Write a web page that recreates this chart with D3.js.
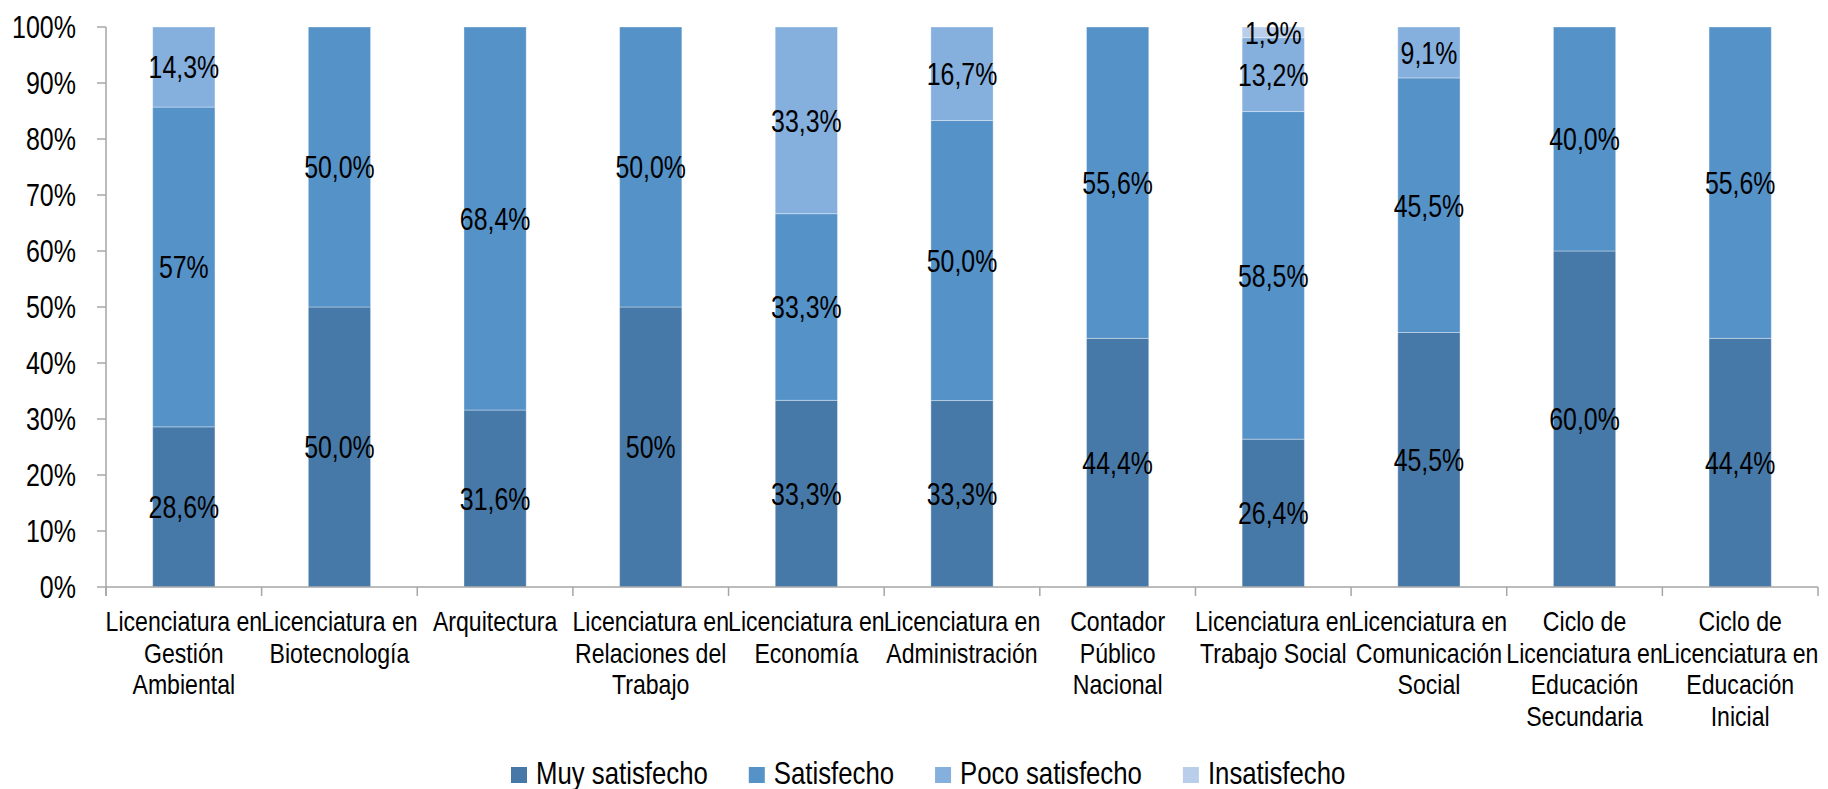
<!DOCTYPE html>
<html>
<head>
<meta charset="utf-8">
<script src="https://cdn.jsdelivr.net/npm/d3@7"></script>
<style>
  html, body { margin: 0; padding: 0; background: #ffffff; }
  svg { display: block; }
  text { font-family: "Liberation Sans", Arial, sans-serif; fill: #000; }
</style>
</head>
<body>
<svg id="chart" width="1828" height="789"></svg>
<script>
// ---- Data ----
const categories = [
  "Licenciatura en\nGestión\nAmbiental",
  "Licenciatura en\nBiotecnología",
  "Arquitectura",
  "Licenciatura en\nRelaciones del\nTrabajo",
  "Licenciatura en\nEconomía",
  "Licenciatura en\nAdministración",
  "Contador\nPúblico\nNacional",
  "Licenciatura en\nTrabajo Social",
  "Licenciatura en\nComunicación\nSocial",
  "Ciclo de\nLicenciatura en\nEducación\nSecundaria",
  "Ciclo de\nLicenciatura en\nEducación\nInicial"
];
const seriesNames = ["Muy satisfecho", "Satisfecho", "Poco satisfecho", "Insatisfecho"];
const muySatisfecho  = [28.6, 50.0, 31.6, 50.0, 33.3, 33.3, 44.4, 26.4, 45.5, 60.0, 44.4];
const satisfecho     = [57.1, 50.0, 68.4, 50.0, 33.3, 50.0, 55.6, 58.5, 45.5, 40.0, 55.6];
const pocoSatisfecho = [14.3, 0, 0, 0, 33.3, 16.7, 0, 13.2, 9.1, 0, 0];
const insatisfecho   = [0, 0, 0, 0, 0, 0, 0, 1.9, 0, 0, 0];
const muyLabels  = ["28,6%", "50,0%", "31,6%", "50%", "33,3%", "33,3%", "44,4%", "26,4%", "45,5%", "60,0%", "44,4%"];
const satLabels  = ["57%", "50,0%", "68,4%", "50,0%", "33,3%", "50,0%", "55,6%", "58,5%", "45,5%", "40,0%", "55,6%"];
const pocoLabels = ["14,3%", "", "", "", "33,3%", "16,7%", "", "13,2%", "9,1%", "", ""];
const insLabels  = ["", "", "", "", "", "", "", "1,9%", "", "", ""];
const yTicks = [0, 0.1, 0.2, 0.3, 0.4, 0.5, 0.6, 0.7, 0.8, 0.9, 1.0];
const yTickLabels = ["0%", "10%", "20%", "30%", "40%", "50%", "60%", "70%", "80%", "90%", "100%"];

// ---- Styles ----
const colors = ["#4779A8", "#5592C8", "#85AFDD", "#B8CEEA"];
const axisColor = "#A6A6A6";

const svg = d3.select("#chart");
const plotLeft = 106, plotRight = 1818, plotTop = 27, plotBottom = 587;

const x = d3.scaleBand().domain(categories).range([plotLeft, plotRight]).paddingInner(0.6).paddingOuter(0.3);
const y = d3.scaleLinear().domain([0, 1]).range([plotBottom, plotTop]);
const color = d3.scaleOrdinal().domain(seriesNames).range(colors);

const table = categories.map((c, i) => ({
  cat: c,
  "Muy satisfecho": muySatisfecho[i],
  "Satisfecho": satisfecho[i],
  "Poco satisfecho": pocoSatisfecho[i],
  "Insatisfecho": insatisfecho[i]
}));
const labelsBySeries = {
  "Muy satisfecho": muyLabels,
  "Satisfecho": satLabels,
  "Poco satisfecho": pocoLabels,
  "Insatisfecho": insLabels
};

const stacked = d3.stack().keys(seriesNames).offset(d3.stackOffsetExpand)(table);

// bars
const gBars = svg.append("g");
stacked.forEach(layer => {
  gBars.append("g").selectAll("rect")
    .data(layer.filter(d => d[1] - d[0] > 0))
    .join("rect")
    .attr("x", d => x(d.data.cat))
    .attr("width", x.bandwidth())
    .attr("y", d => y(d[1]))
    .attr("height", d => y(d[0]) - y(d[1]))
    .attr("fill", color(layer.key))
    .attr("stroke", "rgba(255,255,255,0.35)")
    .attr("stroke-width", 1);
});

// y axis
const gy = svg.append("g");
gy.append("line").attr("x1", plotLeft).attr("x2", plotLeft).attr("y1", y(1)).attr("y2", plotBottom + 9)
  .attr("stroke", axisColor).attr("stroke-width", 1.5);
gy.selectAll(".yt").data(yTicks).join("line")
  .attr("x1", plotLeft - 9).attr("x2", plotLeft)
  .attr("y1", d => y(d)).attr("y2", d => y(d))
  .attr("stroke", axisColor).attr("stroke-width", 1.5);
gy.selectAll(".ytl").data(yTicks).join("text")
  .attr("text-anchor", "end")
  .attr("dy", "0.36em")
  .attr("font-size", 30.5)
  .attr("transform", d => `translate(76,${y(d)}) scale(0.82,1)`)
  .text((d, i) => yTickLabels[i]);

// x axis
const gx = svg.append("g");
gx.append("line").attr("x1", plotLeft).attr("x2", plotRight).attr("y1", plotBottom).attr("y2", plotBottom)
  .attr("stroke", axisColor).attr("stroke-width", 1.5);
const step = x.step();
const boundaries = d3.range(categories.length + 1).map(i => plotLeft + i * step);
gx.selectAll(".xt").data(boundaries).join("line")
  .attr("x1", d => d).attr("x2", d => d)
  .attr("y1", plotBottom).attr("y2", plotBottom + 9)
  .attr("stroke", axisColor).attr("stroke-width", 1.5);
categories.forEach(c => {
  const cx = x(c) + x.bandwidth() / 2;
  c.split("\n").forEach((line, j) => {
    gx.append("text")
      .attr("text-anchor", "middle")
      .attr("font-size", 28.5)
      .attr("transform", `translate(${cx},${631 + j * 31.7}) scale(0.81,1)`)
      .text(line);
  });
});

// data labels
const gLab = svg.append("g");
stacked.forEach(layer => {
  const labs = labelsBySeries[layer.key];
  layer.forEach((d, i) => {
    if (!labs[i]) return;
    const cx = x(d.data.cat) + x.bandwidth() / 2;
    const cy = y((d[0] + d[1]) / 2);
    gLab.append("text")
      .attr("text-anchor", "middle")
      .attr("dy", "0.36em")
      .attr("font-size", 31.5)
      .attr("transform", `translate(${cx},${cy}) scale(0.79,1)`)
      .text(labs[i]);
  });
});

// legend
const gLeg = svg.append("g");
let lx = 511;
seriesNames.forEach(name => {
  gLeg.append("rect").attr("x", lx).attr("y", 767).attr("width", 16).attr("height", 16)
    .attr("fill", color(name));
  const t = gLeg.append("text")
    .attr("font-size", 30.5)
    .attr("transform", `translate(${lx + 25},784) scale(0.845,1)`)
    .text(name);
  const w = t.node().getComputedTextLength() * 0.845;
  lx = lx + 25 + w + 41;
});
</script>
</body>
</html>
